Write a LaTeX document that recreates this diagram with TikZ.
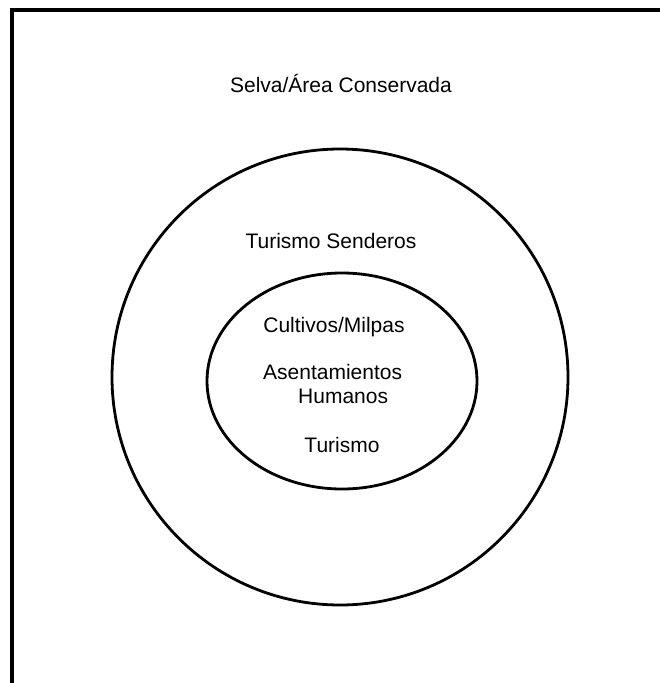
\documentclass[tikz,border=0pt]{standalone}
\usepackage{fontspec}
\setmainfont{Liberation Sans}
\usetikzlibrary{shapes.geometric}
\usetikzlibrary{positioning}
\tikzset{
  zona/.style={draw, line width=2.8pt, inner sep=0pt},
  rotulo/.style={font=\fontsize{21}{24}\selectfont, inner sep=0pt, anchor=base}
}

\begin{document}
\begin{tikzpicture}[x=1pt, y=-1pt]
    % Define bounds
    \clip (0,0) rectangle (660,683);
    \draw [line width=4pt] (12,10) rectangle (720,740);

    % Place zones
    \node [zona, circle, minimum size=456pt] (amortiguamiento) at (340,377) {};
    \node [zona, ellipse, minimum width=270pt, minimum height=216pt] (nucleo) at (342,381) {};

    % Place labels
    \node [rotulo] (selva) at (341,92) {Selva/Área Conservada};
    \node [rotulo] (senderos) at (331,248) {Turismo Senderos};
    \node [rotulo] (cultivos) at (334,332) {Cultivos/Milpas};
    \node [rotulo, anchor=base west, align=left] (asentamientos) at (263,403)
        {Asentamientos\\\hspace*{35pt}Humanos};
    \node [rotulo] (turismo) at (342,452) {Turismo};
\end{tikzpicture}
\end{document}
